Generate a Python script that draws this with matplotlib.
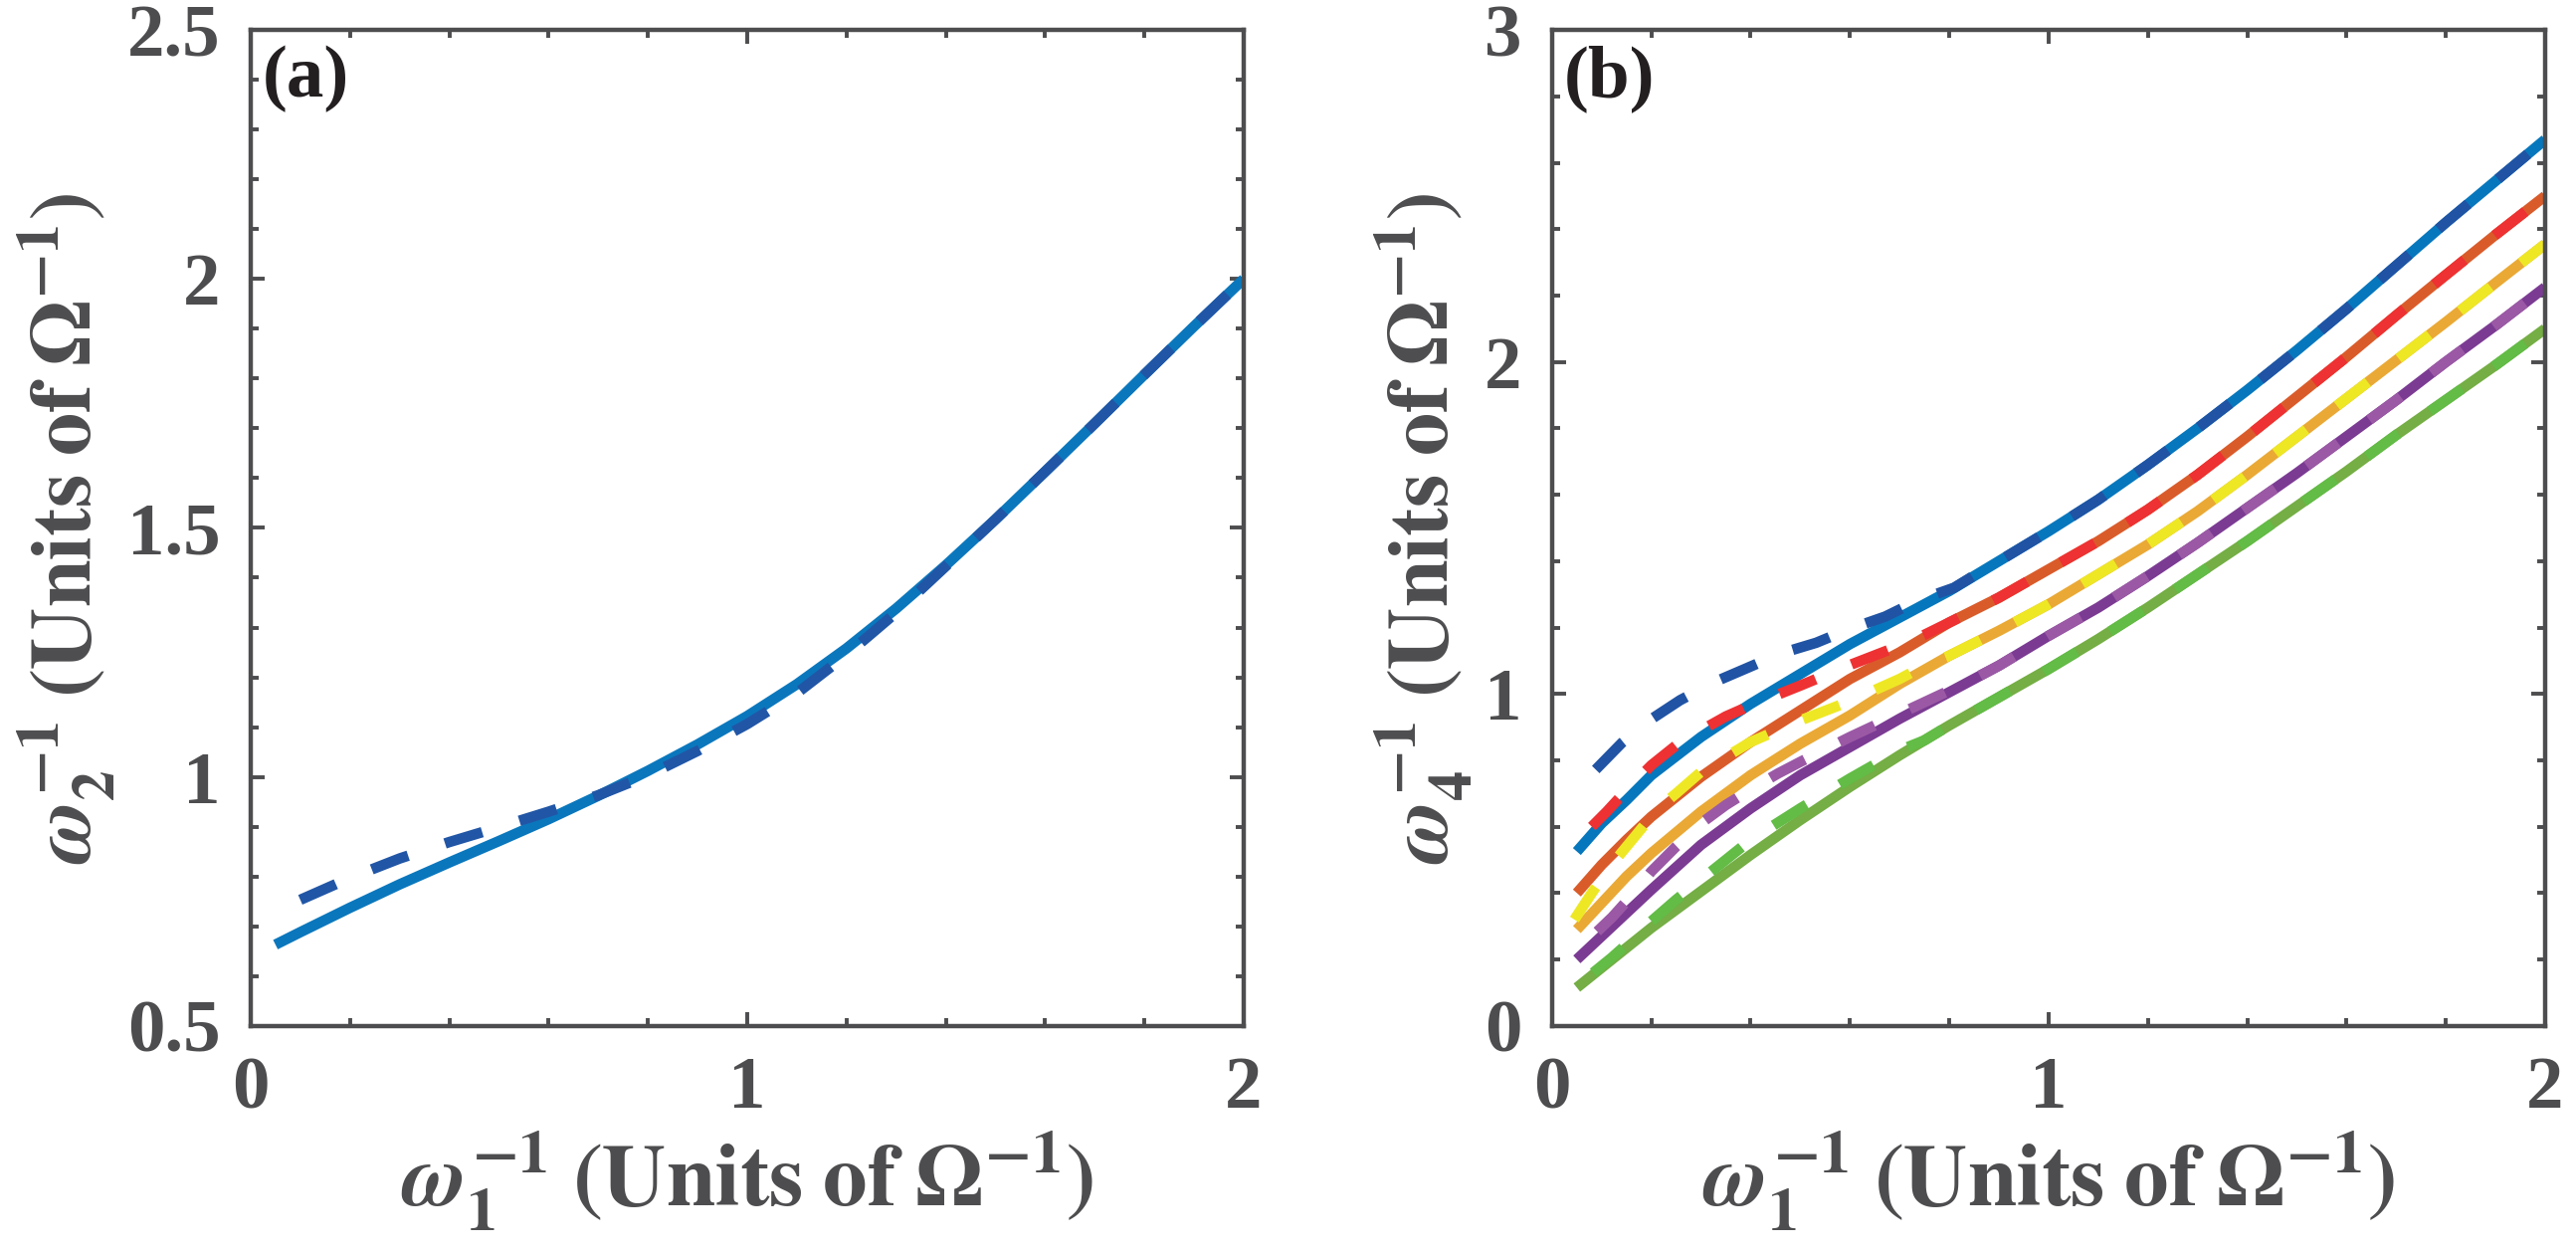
import matplotlib
matplotlib.use("Agg")
import matplotlib.pyplot as plt
from matplotlib.ticker import MultipleLocator, FuncFormatter

# ---- panel (a) data ----
a_solid_x = [0.05, 0.1, 0.2, 0.3, 0.4, 0.5, 0.6, 0.7, 0.8, 0.9, 1.0,
             1.1, 1.2, 1.3, 1.4, 1.5, 1.6, 1.7, 1.8, 1.9, 2.0]
a_solid_y = [0.663, 0.688, 0.737, 0.784, 0.828, 0.871, 0.915, 0.962, 1.012, 1.065, 1.122,
             1.186, 1.258, 1.338, 1.425, 1.517, 1.613, 1.71, 1.808, 1.905, 2.0]
a_dash_x = [0.1, 0.2, 0.3, 0.4, 0.5, 0.6, 0.7, 0.8, 0.9, 1.0,
            1.1, 1.2, 1.3, 1.4, 1.5, 1.6, 1.7, 1.8, 1.9, 2.0]
a_dash_y = [0.753, 0.797, 0.836, 0.869, 0.899, 0.93, 0.963, 1.003, 1.052, 1.106,
            1.168, 1.245, 1.33, 1.423, 1.517, 1.613, 1.71, 1.808, 1.905, 2.0]

# ---- panel (b) data ----
b_x = [0.05, 0.1, 0.15, 0.2, 0.3, 0.4, 0.5, 0.6, 0.7, 0.8, 0.9, 1.0,
       1.1, 1.2, 1.3, 1.4, 1.5, 1.6, 1.7, 1.8, 1.9, 2.0]
b_blue = [0.525, 0.61, 0.68, 0.755, 0.87, 0.97, 1.06, 1.15, 1.23, 1.31, 1.40, 1.49,
          1.585, 1.69, 1.80, 1.915, 2.035, 2.16, 2.29, 2.42, 2.545, 2.67]
b_orange = [0.40, 0.485, 0.56, 0.63, 0.75, 0.855, 0.95, 1.045, 1.125, 1.215, 1.29, 1.375,
            1.46, 1.555, 1.66, 1.775, 1.895, 2.015, 2.14, 2.262, 2.383, 2.50]
b_gold = [0.29, 0.37, 0.45, 0.52, 0.645, 0.755, 0.85, 0.935, 1.03, 1.115, 1.19, 1.27,
          1.36, 1.45, 1.55, 1.66, 1.775, 1.89, 2.005, 2.12, 2.238, 2.355]
b_purple = [0.20, 0.27, 0.34, 0.41, 0.545, 0.655, 0.755, 0.84, 0.925, 1.005, 1.085, 1.175,
            1.26, 1.355, 1.455, 1.56, 1.665, 1.775, 1.885, 2.0, 2.11, 2.225]
b_green = [0.115, 0.175, 0.235, 0.295, 0.405, 0.515, 0.62, 0.72, 0.815, 0.905, 0.99, 1.075,
           1.165, 1.26, 1.36, 1.46, 1.565, 1.67, 1.78, 1.885, 1.99, 2.10]

b_blue_dash_x = [0.088, 0.141, 0.198, 0.258, 0.326, 0.393, 0.461, 0.532, 0.6, 0.671, 0.738, 0.81, 0.87,
                 0.9, 1.0, 1.1, 1.2, 1.3, 1.4, 1.5, 1.6, 1.7, 1.8, 1.9, 2.0]
b_blue_dash_y = [0.772, 0.853, 0.922, 0.981, 1.035, 1.078, 1.122, 1.154, 1.196, 1.233, 1.282, 1.32, 1.375,
                 1.40, 1.49, 1.585, 1.69, 1.80, 1.915, 2.035, 2.16, 2.29, 2.42, 2.545, 2.67]
b_red_dash_x = [0.08, 0.11, 0.15, 0.2, 0.25, 0.3, 0.35, 0.4, 0.5, 0.6, 0.7, 0.75,
                0.8, 0.9, 1.0, 1.1, 1.2, 1.3, 1.4, 1.5, 1.6, 1.7, 1.8, 1.9, 2.0]
b_red_dash_y = [0.60, 0.645, 0.71, 0.785, 0.845, 0.89, 0.932, 0.965, 1.025, 1.087, 1.145, 1.178,
                1.215, 1.29, 1.375, 1.46, 1.555, 1.66, 1.775, 1.895, 2.015, 2.14, 2.262, 2.383, 2.50]
b_yellow_dash_x = [0.045, 0.08, 0.117, 0.15, 0.213, 0.25, 0.3, 0.4, 0.5, 0.6, 0.7, 0.75,
                   0.8, 0.9, 1.0, 1.1, 1.2, 1.3, 1.4, 1.5, 1.6, 1.7, 1.8, 1.9, 2.0]
b_yellow_dash_y = [0.32, 0.40, 0.48, 0.54, 0.654, 0.70, 0.765, 0.855, 0.92, 0.978, 1.045, 1.085,
                   1.115, 1.19, 1.27, 1.36, 1.45, 1.55, 1.66, 1.775, 1.89, 2.005, 2.12, 2.238, 2.355]
b_violet_dash_x = [0.091, 0.121, 0.15, 0.2, 0.25, 0.3, 0.35, 0.4, 0.455, 0.5, 0.6, 0.7, 0.8, 0.854,
                   0.9, 1.0, 1.1, 1.2, 1.3, 1.4, 1.5, 1.6, 1.7, 1.8, 1.9, 2.0]
b_violet_dash_y = [0.284, 0.327, 0.375, 0.465, 0.54, 0.61, 0.665, 0.712, 0.76, 0.795, 0.87, 0.94, 1.01, 1.049,
                   1.085, 1.175, 1.26, 1.355, 1.455, 1.56, 1.665, 1.775, 1.885, 2.0, 2.11, 2.225]
b_lime_dash_x = [0.083, 0.12, 0.15, 0.2, 0.25, 0.3, 0.35, 0.4, 0.5, 0.6, 0.7, 0.75,
                 0.8, 0.9, 1.0, 1.1, 1.2, 1.3, 1.4, 1.5, 1.6, 1.7, 1.8, 1.9, 2.0]
b_lime_dash_y = [0.16, 0.205, 0.245, 0.315, 0.38, 0.44, 0.50, 0.56, 0.655, 0.745, 0.83, 0.86,
                 0.905, 0.99, 1.075, 1.165, 1.26, 1.36, 1.46, 1.565, 1.67, 1.78, 1.885, 1.99, 2.10]

GRAY = "#4d4d4f"

plt.rcParams["font.family"] = "Liberation Serif"
plt.rcParams["font.weight"] = "bold"
plt.rcParams["mathtext.fontset"] = "stix"

fig = plt.figure(figsize=(12.945, 6.3), dpi=200)
ax_a = fig.add_axes([0.0973, 0.182, 0.3855, 0.794])
ax_b = fig.add_axes([0.6025, 0.182, 0.3855, 0.794])

LW = 3.8
DASH = (3.7, 3.7)
XLABEL = r"$\omega_1^{-1}\;(\mathbf{Units\;of}\;\mathit{\Omega}^{-1})$"


def style_axes(ax, ylim, ymajor, yminor):
    ax.set_xlim(0, 2)
    ax.set_ylim(*ylim)
    ax.xaxis.set_major_locator(MultipleLocator(1))
    ax.xaxis.set_minor_locator(MultipleLocator(0.2))
    ax.yaxis.set_major_locator(MultipleLocator(ymajor))
    ax.yaxis.set_minor_locator(MultipleLocator(yminor))
    fmt = FuncFormatter(lambda v, p: "%g" % v)
    ax.xaxis.set_major_formatter(fmt)
    ax.yaxis.set_major_formatter(fmt)
    ax.tick_params(which="both", direction="in", top=True, right=True,
                   colors=GRAY, width=1.4, labelsize=27, pad=11)
    ax.tick_params(which="major", length=5)
    ax.tick_params(which="minor", length=3)
    for s in ax.spines.values():
        s.set_color(GRAY)
        s.set_linewidth(1.6)


# panel (a)
ax_a.plot(a_solid_x, a_solid_y, color="#0a77bd", lw=LW, solid_capstyle="butt")
ax_a.plot(a_dash_x, a_dash_y, color="#2156a6", lw=LW, dashes=DASH, dash_capstyle="butt")
style_axes(ax_a, (0.5, 2.5), 0.5, 0.1)
ax_a.set_xlabel(XLABEL, fontsize=32, color=GRAY, labelpad=2)
ax_a.set_ylabel(r"$\omega_2^{-1}\;(\mathbf{Units\;of}\;\mathit{\Omega}^{-1})$",
                fontsize=31, color=GRAY, labelpad=4)
ax_a.text(0.012, 0.985, "(a)", transform=ax_a.transAxes, ha="left", va="top",
          fontsize=27, fontweight="bold", color="#231f20")

# panel (b): solid curves first, dashed on top
solids = [(b_blue, "#0677bd"), (b_orange, "#da5b2a"), (b_gold, "#eaa935"),
          (b_purple, "#7b3b93"), (b_green, "#74ae44")]
for ys, c in solids:
    ax_b.plot(b_x, ys, color=c, lw=LW, solid_capstyle="butt")

dashed = [(b_blue_dash_x, b_blue_dash_y, "#2053a4"),
          (b_red_dash_x, b_red_dash_y, "#ee3132"),
          (b_yellow_dash_x, b_yellow_dash_y, "#eee824"),
          (b_violet_dash_x, b_violet_dash_y, "#9b59a5"),
          (b_lime_dash_x, b_lime_dash_y, "#62bc46")]
for xs, ys, c in dashed:
    ax_b.plot(xs, ys, color=c, lw=LW, dashes=DASH, dash_capstyle="butt")

style_axes(ax_b, (0, 3), 1, 0.2)
ax_b.set_xlabel(XLABEL, fontsize=32, color=GRAY, labelpad=2)
ax_b.set_ylabel(r"$\omega_4^{-1}\;(\mathbf{Units\;of}\;\mathit{\Omega}^{-1})$",
                fontsize=31, color=GRAY, labelpad=4)
ax_b.text(0.012, 0.985, "(b)", transform=ax_b.transAxes, ha="left", va="top",
          fontsize=27, fontweight="bold", color="#231f20")

fig.savefig("out.png", dpi=200)
